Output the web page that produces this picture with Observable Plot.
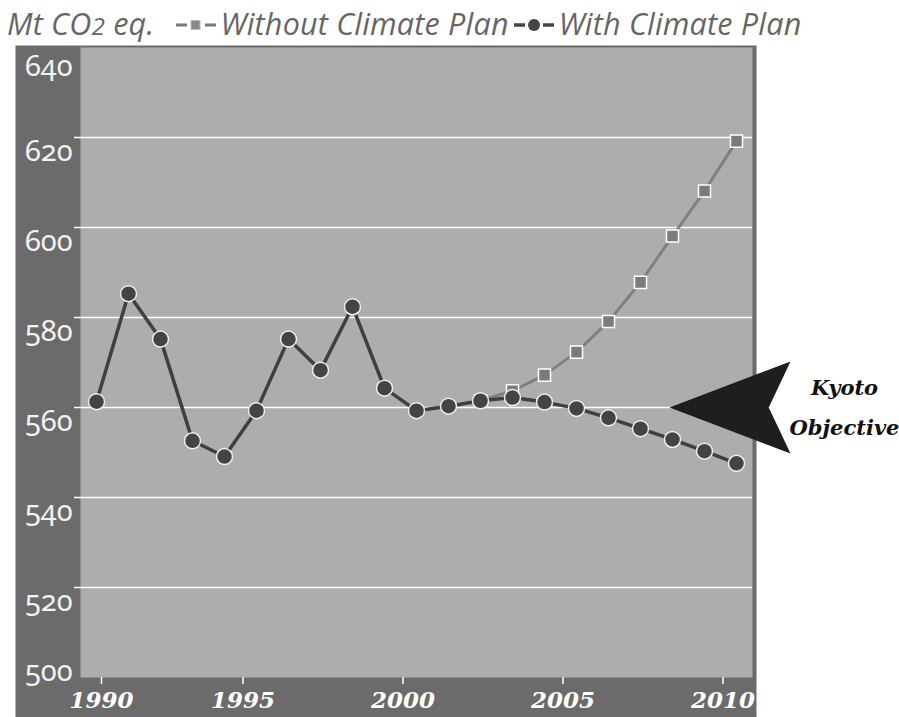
<!DOCTYPE html>
<html><head><meta charset="utf-8">
<script src="https://cdn.jsdelivr.net/npm/d3@7"></script>
<script src="https://cdn.jsdelivr.net/npm/@observablehq/plot@0.6"></script>
<style>
body{margin:0;background:#fff;width:899px;height:717px;overflow:hidden}
#title{height:45px;font-family:"Open Sans",sans-serif;font-style:italic;font-size:30.5px;color:#666;padding-left:7px;line-height:46px;white-space:nowrap;box-sizing:border-box;letter-spacing:0.2px}
#title svg{vertical-align:middle;margin:0 4px;position:relative;top:-2px}
#chart svg{display:block}
#chart g[aria-label="y-axis tick label"] text{font-variant-numeric:oldstyle-nums;font-feature-settings:"onum" 1}
</style></head><body>
<div id="title">Mt CO<span style="font-size:80%">2</span> eq. &nbsp;<svg width="42" height="16" viewBox="0 0 42 16"><line x1="1" y1="8" x2="12" y2="8" stroke="#777" stroke-width="3"/><line x1="30" y1="8" x2="41" y2="8" stroke="#777" stroke-width="3"/><rect x="16" y="3.5" width="9" height="9" fill="#888" stroke="#bbb" stroke-width="1"/></svg>Without Climate Plan<svg width="42" height="16" viewBox="0 0 42 16"><line x1="1" y1="8" x2="12" y2="8" stroke="#444" stroke-width="3.5"/><line x1="30" y1="8" x2="41" y2="8" stroke="#444" stroke-width="3.5"/><circle cx="21" cy="8" r="6" fill="#444"/></svg>With Climate Plan</div>
<div id="chart"></div>
<script>
const years = [1990,1991,1992,1993,1994,1995,1996,1997,1998,1999,2000,2001,2002,2003,2004,2005,2006,2007,2008,2009,2010];
const withPlan = [561.3,585.3,575.2,552.6,549.1,559.3,575.2,568.3,582.4,564.3,559.3,560.3,561.5,562.2,561.2,559.8,557.7,555.3,552.9,550.3,547.6];
const withoutYears = [2002,2003,2004,2005,2006,2007,2008,2009,2010];
const withoutPlan = [561.5,563.7,567.2,572.3,579.1,587.8,598.1,608.1,619.2];
const yTicks = [500,520,540,560,580,600,620,640];
const gridValues = [520,540,560,580,600,620];
const xTicks = [1990,1995,2000,2005,2010];
const kyotoTarget = 560;
const kyotoLabel = "Kyoto\nObjective";

const withData = years.map((yr, i) => ({t: yr + 0.5, v: withPlan[i]}));
const withoutData = withoutYears.map((yr, i) => ({t: yr + 0.5, v: withoutPlan[i]}));

const notchArrow = {
  draw(ctx, l, r) {
    const w = 46, notch = 0.82 * l;
    ctx.moveTo(0, 0);
    ctx.lineTo(w, -l);
    ctx.lineTo(0, -notch);
    ctx.lineTo(-w, -l);
    ctx.closePath();
  }
};

const yText = {tickSize: 0, tickPadding: 8, fill: "#f2f2f2", fontSize: 29, fontFamily: "Noto Sans", letterSpacing: 1, label: null};
const xText = {tickSize: 7, tickPadding: 7, color: "white", strokeWidth: 1.5, fontSize: 23, fontFamily: "DejaVu Serif", fontWeight: "bold", fontStyle: "italic", label: null, tickFormat: d => String(d)};

const chart = Plot.plot({
  width: 899,
  height: 672,
  marginTop: 2,
  marginBottom: 40,
  marginLeft: 80,
  marginRight: 147,
  x: {domain: [1990, 2011], axis: null},
  y: {domain: [500, 640], axis: null},
  marks: [
    Plot.frame({fill: "#6b6b6b", stroke: null, insetLeft: -65, insetTop: -2, insetRight: -4, insetBottom: -40}),
    Plot.frame({fill: "#adadad", stroke: null}),
    Plot.ruleY(gridValues, {stroke: "white", strokeWidth: 1.5, insetLeft: -6}),
    Plot.line(withoutData, {x: "t", y: "v", stroke: "#808080", strokeWidth: 3}),
    Plot.dot(withoutData, {x: "t", y: "v", symbol: "square", r: 6.8, fill: "#7b7b7b", stroke: "white", strokeWidth: 1.5}),
    Plot.line(withData, {x: "t", y: "v", stroke: "#3f3f3f", strokeWidth: 3.5}),
    Plot.dot(withData, {x: "t", y: "v", r: 8, fill: "#444", stroke: "#eee", strokeWidth: 1.5}),
    Plot.vector([kyotoTarget], {y: d => d, frameAnchor: "right", dx: -83, anchor: "start", rotate: 90, length: 121, shape: notchArrow, fill: "#1e1e1e", stroke: "none"}),
    Plot.text([kyotoLabel], {y: () => kyotoTarget, frameAnchor: "right", dx: 92, dy: -5, text: d => d, fontFamily: "DejaVu Serif", fontWeight: "bold", fontStyle: "italic", fontSize: 21, lineHeight: 1.9, fill: "#111", textAnchor: "middle"}),
    Plot.axisY(yTicks.filter(v => v > 500 && v < 640), {...yText, dy: 14}),
    Plot.axisY(yTicks.filter(v => v === 640), {...yText, dy: 19}),
    Plot.axisY(yTicks.filter(v => v === 500), {...yText, dy: -6}),
    Plot.axisX(xTicks.filter(v => v > 1990), {...xText, dx: 2.5}),
    Plot.axisX(xTicks.filter(v => v === 1990), {...xText, dx: 21})
  ]
});
document.getElementById("chart").appendChild(chart);
</script>
</body></html>
